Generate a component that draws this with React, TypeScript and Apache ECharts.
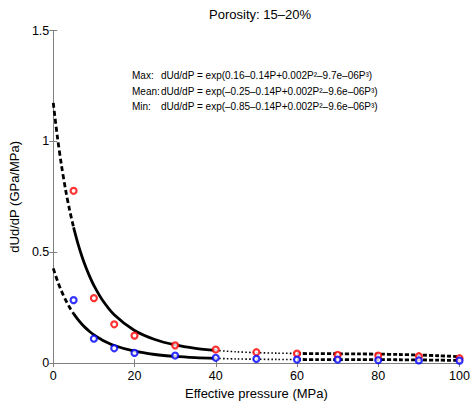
import React, { useEffect, useRef } from "react";
import * as echarts from "echarts";

const PRESSURE = [5, 10, 15, 20, 30, 40, 50, 60, 70, 80, 90, 100];
const MAX_DATA = [0.777, 0.293, 0.175, 0.124, 0.08, 0.061, 0.049, 0.043, 0.037, 0.034, 0.031, 0.022];
const MIN_DATA = [0.284, 0.11, 0.067, 0.046, 0.034, 0.024, 0.019, 0.016, 0.016, 0.013, 0.012, 0.011];

const FIT_P = [0, 1, 2, 3, 4, 5, 6, 7, 8, 9, 10, 12, 15, 20, 25, 30, 35, 40, 45, 50, 55, 60, 65, 70, 75, 80, 85, 90, 95, 100];
const FIT_MAX = [1.1735, 1.0222, 0.894, 0.7849, 0.6917, 0.6119, 0.5433, 0.4842, 0.433, 0.3886, 0.35, 0.2869, 0.2181, 0.1469, 0.1063, 0.0819, 0.0668, 0.0572, 0.0511, 0.0472, 0.0449, 0.0435, 0.0427, 0.0421, 0.0415, 0.0405, 0.0389, 0.0365, 0.0332, 0.029];
const FIT_MIN = [0.4274, 0.3723, 0.3256, 0.2859, 0.2519, 0.2229, 0.1979, 0.1763, 0.1577, 0.1415, 0.1275, 0.1045, 0.0795, 0.0536, 0.0388, 0.0299, 0.0244, 0.021, 0.0188, 0.0174, 0.0166, 0.0162, 0.016, 0.0159, 0.0158, 0.0155, 0.0151, 0.0143, 0.0132, 0.0117];

// Line style segments along pressure
const SEGMENTS: { from: number; to: number; style: "dash" | "solid" | "dot" | "dash2" }[] = [
  { from: 0, to: 5, style: "dash" },
  { from: 5, to: 40, style: "solid" },
  { from: 40, to: 60, style: "dot" },
  { from: 60, to: 100, style: "dash2" },
];

const LABELS = ["Max:", "Mean:", "Min:"];
const FORMULAS = [
  "dUd/dP = exp(0.16–0.14P+0.002P²–9.7e–06P³)",
  "dUd/dP = exp(–0.25–0.14P+0.002P²–9.6e–06P³)",
  "dUd/dP = exp(–0.85–0.14P+0.002P²–9.6e–06P³)",
];

const FONT = "Liberation Sans, Arial, Helvetica, sans-serif";
const AXIS_COLOR = "#808080";

function lineStyleFor(style: string) {
  if (style === "solid") return { color: "#000", width: 2.8, type: "solid" as any };
  if (style === "dot") return { color: "#000", width: 1.6, type: [1.5, 2.2] as any };
  if (style === "dash") return { color: "#000", width: 2.8, type: [5, 3] as any };
  return { color: "#000", width: 2.8, type: [4, 2] as any };
}

export default function App() {
  const ref = useRef<HTMLDivElement>(null);
  useEffect(() => {
    if (!ref.current) return;
    const chart = echarts.init(ref.current, null, { renderer: "svg" });

    const lineSeries: any[] = [];
    const curves = [FIT_MAX, FIT_MIN];
    curves.forEach((curve) => {
      SEGMENTS.forEach((seg) => {
        const data: number[][] = [];
        FIT_P.forEach((p, i) => {
          if (p >= seg.from && p <= seg.to) data.push([p, curve[i]]);
        });
        lineSeries.push({
          type: "line",
          data,
          smooth: 0.3,
          symbol: "none",
          lineStyle: lineStyleFor(seg.style),
          z: 3,
        });
      });
    });

    const axisCommon = {
      axisLine: { show: true, lineStyle: { color: AXIS_COLOR, width: 1 } },
      axisTick: { show: true, inside: true, length: 4, lineStyle: { color: AXIS_COLOR } },
      splitLine: { show: false },
    };

    chart.setOption({
      animation: false,
      title: {
        text: "Porosity: 15–20%",
        left: 255,
        textAlign: "center",
        top: 3,
        textStyle: { fontFamily: FONT, fontSize: 13, fontWeight: "normal", color: "#000" },
      },
      grid: { left: 50, right: 16.5, top: 30.5, bottom: 39, containLabel: false },
      xAxis: [
        {
          type: "value",
          min: 0,
          max: 100,
          interval: 20,
          position: "bottom",
          name: "Effective pressure (MPa)",
          nameLocation: "middle",
          nameGap: 23,
          nameTextStyle: { fontFamily: FONT, fontSize: 13, color: "#000" },
          axisLabel: { fontFamily: FONT, fontSize: 12.5, color: "#000", margin: 6 },
          ...axisCommon,
        },
        {
          type: "value",
          min: 0,
          max: 100,
          interval: 20,
          position: "top",
          axisLabel: { show: false },
          ...axisCommon,
        },
      ],
      yAxis: [
        {
          type: "value",
          min: 0,
          max: 1.5,
          interval: 0.5,
          position: "left",
          name: "dUd/dP (GPa/MPa)",
          nameLocation: "middle",
          nameGap: 23.5,
          nameTextStyle: { fontFamily: FONT, fontSize: 13, color: "#000" },
          axisLabel: { fontFamily: FONT, fontSize: 12.5, color: "#000", margin: 4 },
          ...axisCommon,
        },
        {
          type: "value",
          min: 0,
          max: 1.5,
          interval: 0.5,
          position: "right",
          axisLabel: { show: false },
          ...axisCommon,
        },
      ],
      graphic: [
        ...LABELS.map((t, i) => ({
          type: "text",
          left: 132,
          top: 70.5 + i * 15.5,
          style: { text: t, font: `10px ${FONT}`, fill: "#000" },
        })),
        ...FORMULAS.map((t, i) => ({
          type: "text",
          left: 161,
          top: 70.5 + i * 15.5,
          style: { text: t, font: `10px ${FONT}`, fill: "#000" },
        })),
      ],
      series: [
        ...lineSeries,
        {
          type: "scatter",
          data: PRESSURE.map((p, i) => [p, MAX_DATA[i]]),
          symbol: "circle",
          symbolSize: 6,
          itemStyle: { color: "#fff", borderColor: "#ff0000", borderWidth: 2.2 },
          z: 4,
        },
        {
          type: "scatter",
          data: PRESSURE.map((p, i) => [p, MIN_DATA[i]]),
          symbol: "circle",
          symbolSize: 6,
          itemStyle: { color: "#fff", borderColor: "#0000ff", borderWidth: 2.2 },
          z: 4,
        },
      ],
    });
    return () => chart.dispose();
  }, []);
  return <div ref={ref} style={{ width: 476, height: 405, position: "absolute", left: 0, top: 0 }} />;
}
